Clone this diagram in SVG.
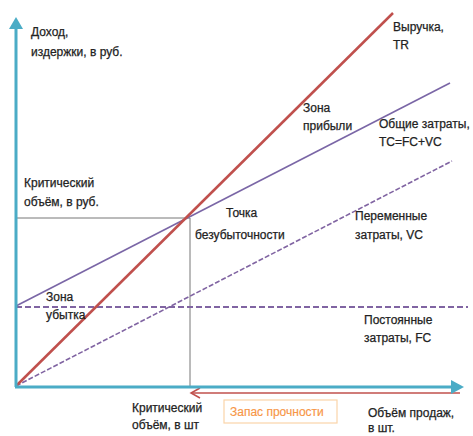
<svg xmlns="http://www.w3.org/2000/svg" width="473" height="436" viewBox="0 0 473 436">
<style>
text{font-family:"Liberation Sans",Arial,sans-serif;font-size:12px;fill:#222;stroke:#222;stroke-width:0.25;}
.ax{stroke:#4bacc6;stroke-width:3;fill:none;}
.guide{stroke:#777;stroke-width:1;fill:none;}
.tr{stroke:#c0504d;stroke-width:2.5;fill:none;}
.tc{stroke:#7a66a6;stroke-width:1.6;fill:none;}
.fc{stroke:#8064a2;stroke-width:2;stroke-dasharray:6 3;fill:none;}
.vc{stroke:#8064a2;stroke-width:1.6;stroke-dasharray:5 2;fill:none;}
text.or{fill:#f79646;stroke:#f79646;stroke-width:0.15;}
</style>
<rect width="473" height="436" fill="#fff"/>
<g id="connectors">
  <line class="guide" x1="16" y1="218" x2="190" y2="218"/>
  <line class="guide" x1="190" y1="218" x2="190" y2="386"/>
  <line class="fc" x1="16" y1="307" x2="468" y2="307"/>
  <line class="vc" x1="16" y1="386" x2="452" y2="161"/>
  <line class="tc" x1="16" y1="306" x2="450" y2="83"/>
  <line class="tr" x1="16" y1="386" x2="393" y2="13"/>
  <line stroke="#c0504d" stroke-width="1.5" x1="191" y1="393" x2="460" y2="393"/>
  <polyline points="200,388 191,393 200,398" fill="none" stroke="#c0504d" stroke-width="1.5"/>
  <line class="ax" x1="16" y1="387" x2="16" y2="26"/>
  <path d="M16,17 L9,29 L23,29 Z" fill="#4bacc6"/>
  <line class="ax" x1="15" y1="387" x2="454" y2="387"/>
  <path d="M464,387 L451,380 L451,394 Z" fill="#4bacc6"/>
</g>
<g id="y-label"><text x="31" y="36">Доход,</text><text x="31" y="56">издержки, в руб.</text></g>
<g id="crit-rub"><text x="24" y="187">Критический</text><text x="24" y="206">объём, в руб.</text></g>
<g id="tr-label"><text x="393" y="31">Выручка,</text><text x="393" y="49">TR</text></g>
<g id="profit-zone"><text x="303" y="112">Зона</text><text x="303" y="130">прибыли</text></g>
<g id="tc-label"><text x="379" y="128">Общие затраты,</text><text x="379" y="146">TC=FC+VC</text></g>
<g id="bep"><text x="226" y="217">Точка</text><text x="195" y="239">безубыточности</text></g>
<g id="vc-label"><text x="355" y="220">Переменные</text><text x="355" y="239">затраты, VC</text></g>
<g id="loss-zone"><text x="46" y="301">Зона</text><text x="46" y="319">убытка</text></g>
<g id="fc-label"><text x="364" y="324">Постоянные</text><text x="364" y="342">затраты, FC</text></g>
<g id="crit-qty"><text x="132" y="412">Критический</text><text x="132" y="429">объём, в шт</text></g>
<g id="safety"><rect x="224" y="400" width="113" height="23" fill="#fff" stroke="#fbd4a8" stroke-width="1.2"/><text class="or" x="230" y="416">Запас прочности</text></g>
<g id="x-label"><text x="368" y="417">Объём продаж,</text><text x="368" y="432">в шт.</text></g>
</svg>
